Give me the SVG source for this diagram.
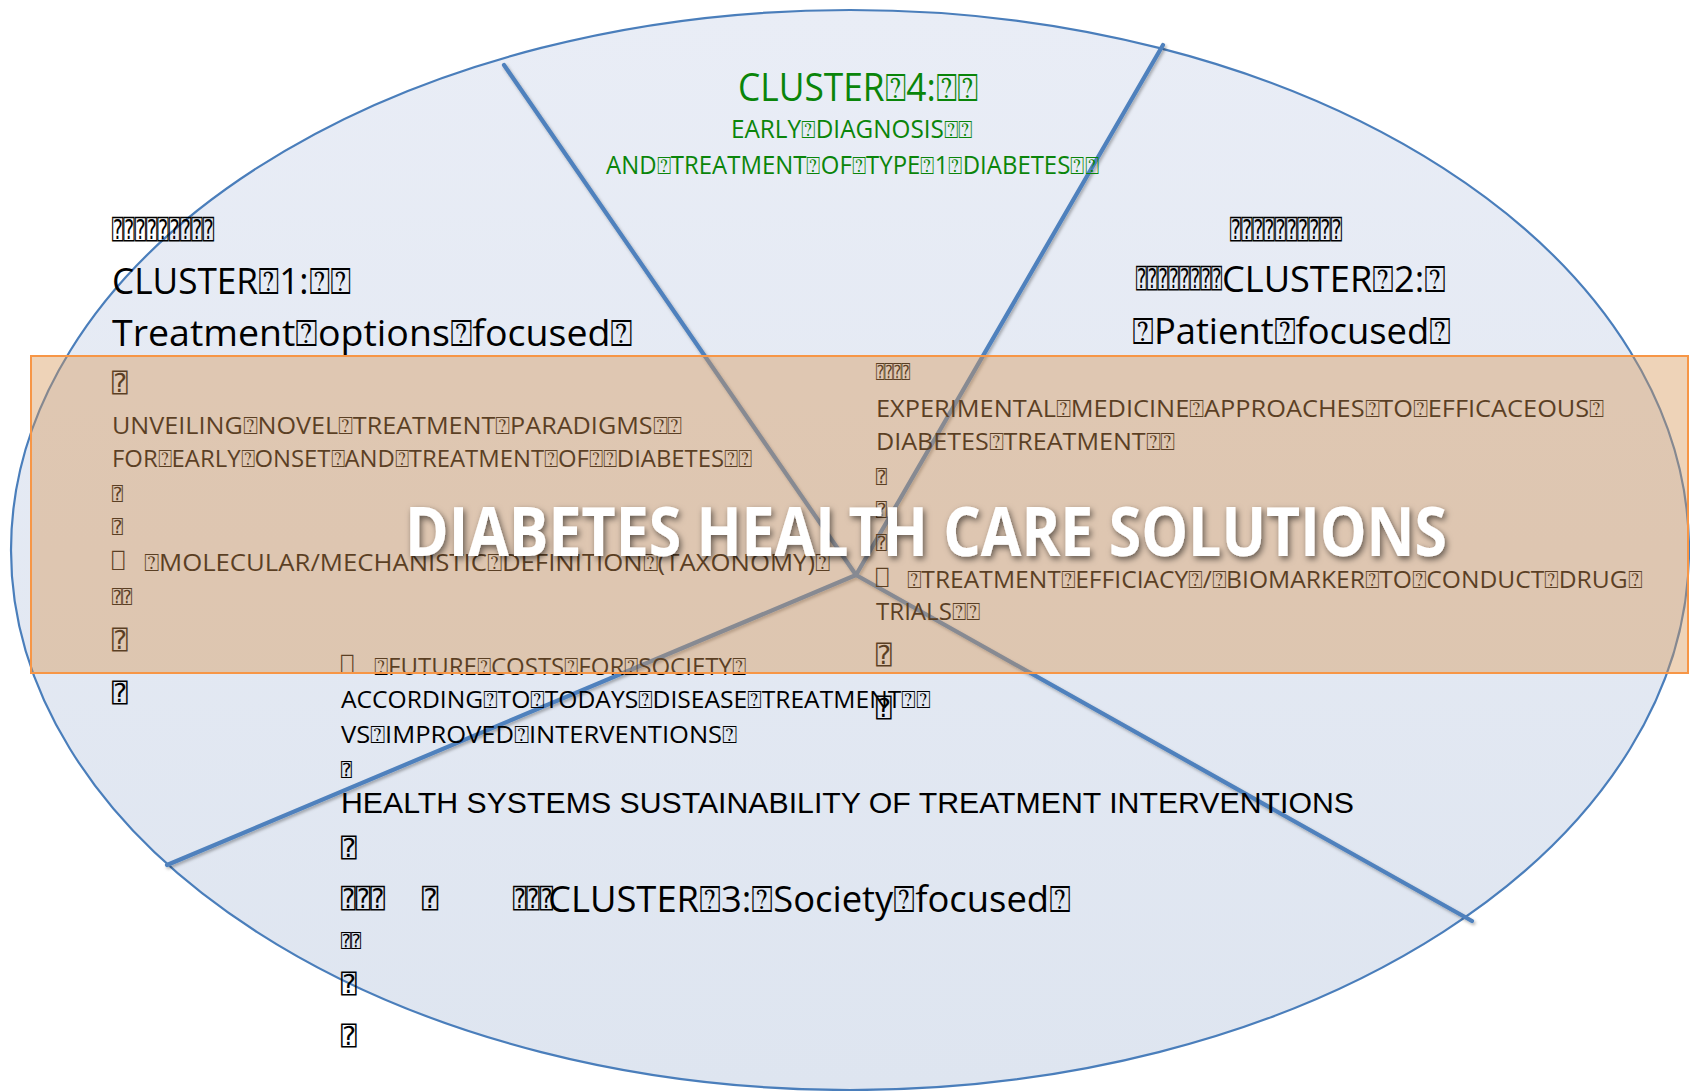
<svg xmlns="http://www.w3.org/2000/svg" width="1690" height="1091" viewBox="0 0 1690 1091">
<defs>
<linearGradient id="ellG" x1="0" y1="0" x2="0" y2="1">
<stop offset="0" stop-color="#e9edf6"/>
<stop offset="1" stop-color="#dee5f0"/>
</linearGradient>
<filter id="lineSh" x="-10%" y="-10%" width="120%" height="120%">
<feDropShadow dx="1.5" dy="2" stdDeviation="1.5" flood-color="#000" flood-opacity="0.3"/>
</filter>
<filter id="titleSh" x="-10%" y="-30%" width="120%" height="160%">
<feDropShadow dx="2" dy="3" stdDeviation="3" flood-color="#000" flood-opacity="0.55"/>
</filter>
</defs>
<style>
text{font-family:"Open Sans","DejaVu Sans",sans-serif;fill:#000}
.h{font-size:36.5px}
.g{fill:#0a850a}
.gh{font-size:37.5px}
.gs{font-size:25px}
.s{font-size:24px}
.bx{font-family:"DejaVu Sans Mono","DejaVu Sans",monospace}
.ar{font-family:"Liberation Sans",Arial,sans-serif;font-size:29px}
.title{font-family:"Open Sans","DejaVu Sans",sans-serif;font-weight:700;font-size:68px;fill:#fff}
</style>
<rect x="0" y="0" width="1690" height="1091" fill="#fff"/>
<g id="ellipse">
<ellipse cx="850" cy="550" rx="839" ry="540" fill="url(#ellG)" stroke="#4a7ebb" stroke-width="2.2"/>
</g>
<g id="connectors" stroke="#4f81bd" stroke-width="4.2" stroke-linecap="round" filter="url(#lineSh)" fill="none">
<line x1="856" y1="575" x2="504" y2="65"/>
<line x1="856" y1="575" x2="1163" y2="45"/>
<line x1="856" y1="575" x2="167" y2="865"/>
<line x1="856" y1="575" x2="1472" y2="921"/>
</g>
<g id="cluster4">
<text class="g gh" x="738" y="101" textLength="241" lengthAdjust="spacingAndGlyphs">CLUSTER⍰4:⍰⍰</text>
<text class="g gs" x="731" y="138" textLength="242" lengthAdjust="spacingAndGlyphs">EARLY⍰DIAGNOSIS⍰⍰</text>
<text class="g gs" x="606" y="174" textLength="493" lengthAdjust="spacingAndGlyphs">AND⍰TREATMENT⍰OF⍰TYPE⍰1⍰DIABETES⍰⍰</text>
</g>
<g id="cluster1">
<text class="bx" x="112" y="239" font-size="27" textLength="102" lengthAdjust="spacingAndGlyphs">⍰⍰⍰⍰⍰⍰⍰⍰⍰</text>
<text class="h" x="112" y="294" textLength="239" lengthAdjust="spacingAndGlyphs">CLUSTER⍰1:⍰⍰</text>
<text class="h" x="112" y="346" textLength="521" lengthAdjust="spacingAndGlyphs">Treatment⍰options⍰focused⍰</text>
<text class="bx" x="112" y="392" font-size="26">⍰</text>
<text class="s" x="112" y="434" textLength="570" lengthAdjust="spacingAndGlyphs">UNVEILING⍰NOVEL⍰TREATMENT⍰PARADIGMS⍰⍰</text>
<text class="s" x="112" y="467" textLength="640" lengthAdjust="spacingAndGlyphs">FOR⍰EARLY⍰ONSET⍰AND⍰TREATMENT⍰OF⍰⍰DIABETES⍰⍰</text>
<text class="bx" x="112" y="500" font-size="18">⍰</text>
<text class="bx" x="112" y="533" font-size="18">⍰</text>
<text class="bx" x="112" y="568" font-size="21">⎕</text>
<text class="s" x="144" y="571" textLength="686" lengthAdjust="spacingAndGlyphs">⍰MOLECULAR/MECHANISTIC⍰DEFINITION⍰(TAXONOMY)⍰</text>
<text class="bx" x="112" y="603" font-size="18" textLength="20" lengthAdjust="spacingAndGlyphs">⍰⍰</text>
<text class="bx" x="112" y="649" font-size="26">⍰</text>
<text class="bx" x="112" y="702" font-size="26">⍰</text>
</g>
<g id="cluster2">
<text class="bx" x="1230" y="239" font-size="27" textLength="112" lengthAdjust="spacingAndGlyphs">⍰⍰⍰⍰⍰⍰⍰⍰⍰⍰</text>
<text class="bx" x="1136" y="288" font-size="27" textLength="86" lengthAdjust="spacingAndGlyphs">⍰⍰⍰⍰⍰⍰⍰⍰</text>
<text class="h" x="1222" y="292" textLength="224" lengthAdjust="spacingAndGlyphs">CLUSTER⍰2:⍰</text>
<text class="h" x="1132" y="344" textLength="319" lengthAdjust="spacingAndGlyphs">⍰Patient⍰focused⍰</text>
<text class="bx" x="876" y="378" font-size="18" textLength="34" lengthAdjust="spacingAndGlyphs">⍰⍰⍰⍰</text>
<text class="s" x="876" y="417" textLength="728" lengthAdjust="spacingAndGlyphs">EXPERIMENTAL⍰MEDICINE⍰APPROACHES⍰TO⍰EFFICACEOUS⍰</text>
<text class="s" x="876" y="450" textLength="299" lengthAdjust="spacingAndGlyphs">DIABETES⍰TREATMENT⍰⍰</text>
<text class="bx" x="876" y="483" font-size="18">⍰</text>
<text class="bx" x="876" y="516" font-size="18">⍰</text>
<text class="bx" x="876" y="549" font-size="18">⍰</text>
<text class="bx" x="876" y="585" font-size="21">⎕</text>
<text class="s" x="907" y="588" textLength="735" lengthAdjust="spacingAndGlyphs">⍰TREATMENT⍰EFFICIACY⍰/⍰BIOMARKER⍰TO⍰CONDUCT⍰DRUG⍰</text>
<text class="s" x="876" y="620" textLength="104" lengthAdjust="spacingAndGlyphs">TRIALS⍰⍰</text>
<text class="bx" x="876" y="664" font-size="26">⍰</text>
<text class="bx" x="876" y="717" font-size="26">⍰</text>
</g>
<g id="cluster3">
<text class="bx" x="341" y="672" font-size="21">⎕</text>
<text class="s" x="374" y="675" textLength="372" lengthAdjust="spacingAndGlyphs">⍰FUTURE⍰COSTS⍰FOR⍰SOCIETY⍰</text>
<text class="s" x="341" y="708" textLength="589" lengthAdjust="spacingAndGlyphs">ACCORDING⍰TO⍰TODAYS⍰DISEASE⍰TREATMENT⍰⍰</text>
<text class="s" x="341" y="743" textLength="396" lengthAdjust="spacingAndGlyphs">VS⍰IMPROVED⍰INTERVENTIONS⍰</text>
<text class="bx" x="341" y="776" font-size="18">⍰</text>
<text class="ar" x="341" y="813" textLength="1013" lengthAdjust="spacingAndGlyphs">HEALTH SYSTEMS SUSTAINABILITY OF TREATMENT INTERVENTIONS</text>
<text class="bx" x="341" y="857" font-size="26">⍰</text>
<text class="bx" x="341" y="908" font-size="27" textLength="44" lengthAdjust="spacingAndGlyphs">⍰⍰⍰</text>
<text class="bx" x="422" y="908" font-size="27">⍰</text>
<text class="bx" x="513" y="908" font-size="27" textLength="40" lengthAdjust="spacingAndGlyphs">⍰⍰⍰</text>
<text class="h" x="548" y="912" textLength="523" lengthAdjust="spacingAndGlyphs">CLUSTER⍰3:⍰Society⍰focused⍰</text>
<text class="bx" x="341" y="947" font-size="18" textLength="20" lengthAdjust="spacingAndGlyphs">⍰⍰</text>
<text class="bx" x="341" y="993" font-size="26">⍰</text>
<text class="bx" x="341" y="1045" font-size="26">⍰</text>
</g>
<g id="band">
<rect x="31" y="356" width="1657" height="317" fill="#d79656" fill-opacity="0.42" stroke="#f79646" stroke-width="2"/>
<text class="title" x="405" y="556" textLength="1042" lengthAdjust="spacingAndGlyphs" filter="url(#titleSh)">DIABETES HEALTH CARE SOLUTIONS</text>
</g>
</svg>
